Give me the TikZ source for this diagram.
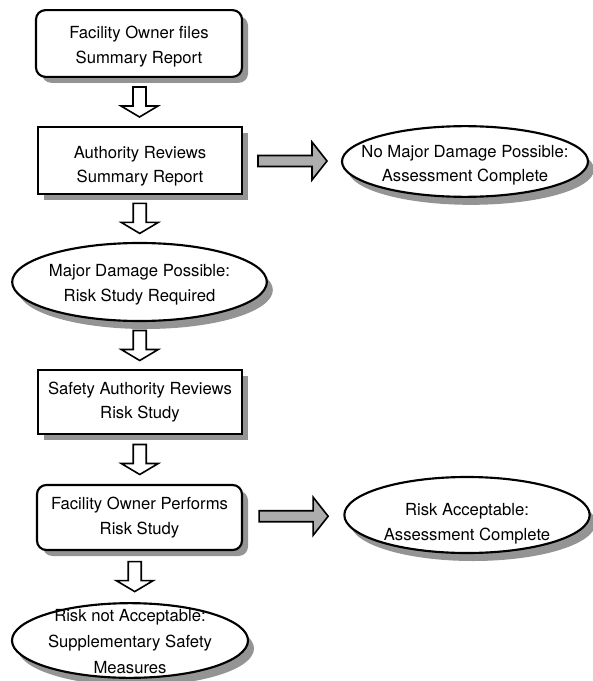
\documentclass[tikz,border=0pt]{standalone}
\usepackage{fontspec}
\setmainfont{TeX Gyre Heros}
\usetikzlibrary{calc}
\usetikzlibrary{shadows}
\usetikzlibrary{shapes.geometric}
\newcommand{\boxwidth}{153pt}
\newcommand{\boxheight}{50pt}
\newcommand{\shadowoff}{4.5pt}
\newcommand{\shadowgray}{black!42}
\tikzset{
  stepbox/.style={draw, line width=1.6pt, fill=white, align=center,
    minimum width=\boxwidth, minimum height=\boxheight, inner sep=1pt,
    drop shadow={shadow xshift=\shadowoff, shadow yshift=-\shadowoff,
      fill=\shadowgray, opacity=1}},
  roundbox/.style={stepbox, rounded corners=7pt},
  outcome/.style={ellipse, draw, line width=1.6pt, fill=white, align=center,
    inner xsep=-25pt, inner ysep=-8pt,
    drop shadow={shadow xshift=\shadowoff, shadow yshift=-6pt,
      fill=\shadowgray, opacity=1}},
  % pushes the text lines down inside their shape (height over last baseline)
  textdrop/.style={execute at begin node={\rule{0pt}{#1}}},
  pics/downarr/.style={code={
    \draw[line width=1.2pt, fill=white] (-6.5,-15) -- (6.5,-15) -- (6.5,4)
      -- (18.5,4) -- (0,15) -- (-18.5,4) -- (-6.5,4) -- cycle;
  }},
  pics/rightarr/.style={code={
    \draw[line width=1.2pt, fill=black!32] (-34,-5.5) -- (20,-5.5) -- (20,-19)
      -- (35,0) -- (20,19) -- (20,5.5) -- (-34,5.5) -- cycle;
  }}
}
\begin{document}
\begin{tikzpicture}[x=0.75pt,y=-0.75pt,font=\fontsize{12.5}{18.5}\selectfont]
  \useasboundingbox (0,0) rectangle (592,681);
  % left column
  \node[roundbox, minimum width=154.5pt, textdrop=32pt] (files) at (139,43.5)
    {Facility Owner files\\Summary Report};
  \node[stepbox, textdrop=36pt] (review) at (140,160.5)
    {Authority Reviews\\Summary Report};
  \node[outcome, minimum width=191pt, minimum height=58.5pt, textdrop=32pt]
    (major) at (139.5,282)
    {Major Damage Possible:\\Risk Study Required};
  \node[stepbox, minimum height=48pt] (safety) at (140,402)
    {Safety Authority Reviews\\Risk Study};
  \node[roundbox, minimum height=48.75pt, minimum width=153.75pt] (performs)
    at (139.5,517.5)
    {Facility Owner Performs\\Risk Study};
  \node[outcome, minimum width=177pt, minimum height=56pt, textdrop=49.5pt,
    font=\fontsize{12.5}{19.5}\selectfont] (notok) at (130,640.5)
    {Risk not Acceptable:\\Supplementary Safety\\Measures};
  % right column
  \node[outcome, minimum width=184.5pt, minimum height=53pt, textdrop=33pt]
    (nomajor) at (465,161.5)
    {No Major Damage Possible:\\Assessment Complete};
  \node[outcome, minimum width=184pt, minimum height=57pt, textdrop=41pt]
    (ok) at (467,515)
    {Risk Acceptable:\\Assessment Complete};
  % connectors
  \pic at ($(files.south)!0.5!(review.north)$) {downarr};
  \pic at ($(review.south)!0.5!(major.north)$) {downarr};
  \pic at ($(major.south)!0.5!(safety.north)$) {downarr};
  \pic at ($(safety.south)!0.5!(performs.north)$) {downarr};
  \pic at ($(performs.south)!0.5!(notok.north)$) {downarr};
  \pic at ($(review.east)!0.5!(nomajor.west)$) {rightarr};
  \pic at ($(performs.east)!0.5!(ok.west)$) {rightarr};
\end{tikzpicture}
\end{document}
